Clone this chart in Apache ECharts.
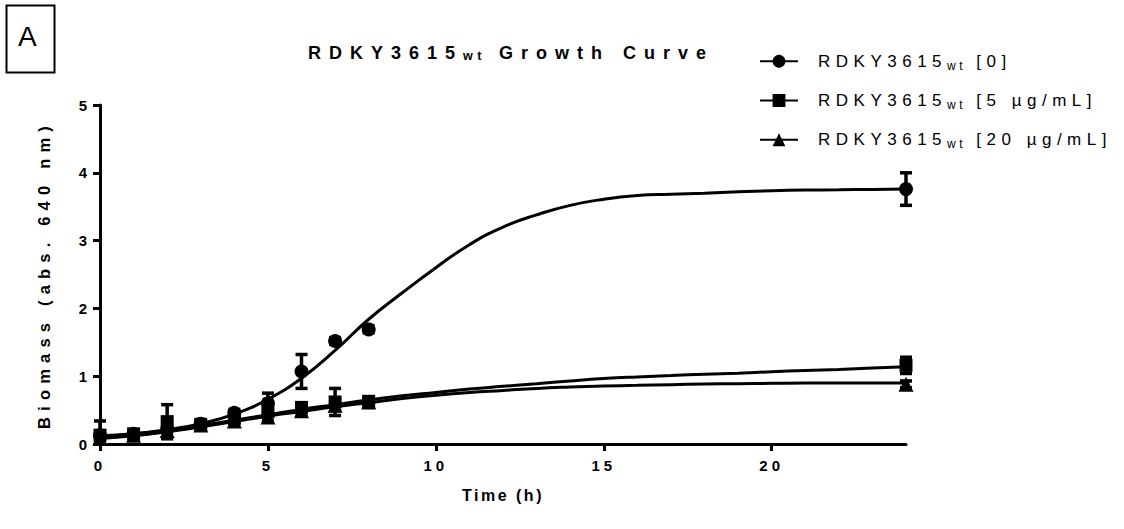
<!DOCTYPE html>
<html>
<head>
<meta charset="utf-8">
<script src="https://cdn.jsdelivr.net/npm/echarts@6/dist/echarts.min.js"></script>
<style>
  html, body { margin: 0; padding: 0; background: #fff; }
  #chart { width: 1124px; height: 529px; }
  #chart svg text[style*="font-size: 18px"]   { letter-spacing: 8px; }
  #chart svg text[style*="font-size: 12.5px"] { letter-spacing: 4.5px; }
  #chart svg text[style*="font-size: 17px"]   { letter-spacing: 5.5px; }
  #chart svg text[style*="font-size: 12px"]   { letter-spacing: 3.5px; }
  #chart svg text[style*="font-size: 15px"]   { letter-spacing: 4px; }
  #chart svg text[style*="font-size: 16px"]   { letter-spacing: 2.5px; }
  #chart svg text[style*="font-size: 16.5px"] { letter-spacing: 6.2px; }
</style>
</head>
<body>
<div id="chart"></div>
<script>
// ---------- data ----------
const timePoints = [0, 1, 2, 3, 4, 5, 6, 7, 8, 24];
const mean0  = [0.13, 0.15, 0.22, 0.30, 0.46, 0.60, 1.07, 1.52, 1.69, 3.76];
const sd0    = [0.21, 0.03, 0.05, 0.04, 0.05, 0.15, 0.25, 0.05, 0.05, 0.24];
const mean5  = [0.13, 0.15, 0.33, 0.29, 0.38, 0.47, 0.54, 0.62, 0.63, 1.16];
const sd5    = [0.05, 0.03, 0.25, 0.04, 0.05, 0.05, 0.05, 0.20, 0.05, 0.12];
const mean20 = [0.09, 0.13, 0.20, 0.28, 0.34, 0.40, 0.49, 0.57, 0.62, 0.88];
const sd20   = [0.05, 0.03, 0.12, 0.03, 0.04, 0.06, 0.06, 0.08, 0.04, 0.05];

// fitted curves (hourly)
const fitTime = [0, 1, 2, 3, 4, 5, 6, 7, 8, 9, 10, 11, 12, 13, 14, 15, 16, 17, 18, 19, 20, 21, 22, 23, 24];
const fit0  = [0.12, 0.15, 0.21, 0.30, 0.44, 0.66, 0.97, 1.38, 1.84, 2.23, 2.60, 2.94, 3.20, 3.38, 3.52, 3.61, 3.665, 3.685, 3.70, 3.72, 3.735, 3.745, 3.75, 3.755, 3.76];
const fit5  = [0.10, 0.15, 0.20, 0.27, 0.35, 0.43, 0.51, 0.58, 0.65, 0.71, 0.76, 0.81, 0.85, 0.89, 0.93, 0.965, 0.99, 1.01, 1.03, 1.045, 1.065, 1.085, 1.10, 1.12, 1.14];
const fit20 = [0.08, 0.12, 0.18, 0.25, 0.33, 0.41, 0.48, 0.55, 0.61, 0.67, 0.72, 0.76, 0.79, 0.82, 0.84, 0.855, 0.865, 0.875, 0.885, 0.89, 0.895, 0.90, 0.90, 0.90, 0.90];

const strain = 'RDKY3615';
const strainSub = 'wt';
const doses = ['[0]', '[5 µg/mL]', '[20 µg/mL]'];
const symbols = ['circle', 'rect', 'triangle'];
const symbolSizes = [14, 13, 15];
const xTicks = [0, 5, 10, 15, 20];
const yTicks = [0, 1, 2, 3, 4, 5];
const titleText = 'Growth Curve';
const xName = 'Time (h)';
const yName = 'Biomass (abs. 640 nm)';
const panelLabel = 'A';

// ---------- letter spacing per font size (must match the CSS above) ----------
const SPACING = { '18': 8, '12.5': 4.5, '17': 5.5, '12': 3.5, '15': 4, '16': 2.5, '16.5': 6.2 };
function spacingFor(sizeStr) {
  const v = SPACING[String(parseFloat(sizeStr))];
  return v === undefined ? 0 : v;
}
const mCtx = document.createElement('canvas').getContext('2d');
echarts.setPlatformAPI({
  measureText: function (text, font) {
    mCtx.font = font;
    const m = /([\d.]+)px/.exec(font);
    mCtx.letterSpacing = (m ? spacingFor(m[1]) : 0) + 'px';
    return mCtx.measureText(text);
  }
});

const FONT = "'Liberation Sans', Arial, sans-serif";
const chart = echarts.init(document.getElementById('chart'), null, { renderer: 'svg' });

const means = [mean0, mean5, mean20];
const sds = [sd0, sd5, sd20];
const fits = [fit0, fit5, fit20];
const names = doses.map(d => strain + strainSub + ' ' + d);

const series = [];
names.forEach((nm, k) => {
  series.push({
    name: nm, type: 'line', smooth: 0.5, showSymbol: false,
    symbol: symbols[k], symbolSize: symbolSizes[k],
    data: fitTime.map((t, i) => [t, fits[k][i]]),
    lineStyle: { color: '#000', width: 3 }, itemStyle: { color: '#000', opacity: 1 },
    z: 2, silent: true
  });
});
names.forEach((nm, k) => {
  series.push({
    name: nm, type: 'custom',
    data: timePoints.map((t, i) => [t, means[k][i] - sds[k][i], means[k][i] + sds[k][i]]),
    renderItem: function (params, api) {
      const lo = api.coord([api.value(0), api.value(1)]);
      const hi = api.coord([api.value(0), api.value(2)]);
      const y0 = api.coord([api.value(0), 0])[1];
      const clipped = lo[1] > y0;
      const ly = clipped ? y0 : lo[1];
      const w = 6;
      const st = { stroke: '#000', lineWidth: 3.5 };
      const ch = [
        { type: 'line', shape: { x1: lo[0], y1: ly, x2: hi[0], y2: hi[1] }, style: st },
        { type: 'line', shape: { x1: hi[0] - w, y1: hi[1], x2: hi[0] + w, y2: hi[1] }, style: st }
      ];
      if (!clipped) ch.push({ type: 'line', shape: { x1: lo[0] - w, y1: ly, x2: lo[0] + w, y2: ly }, style: st });
      return { type: 'group', children: ch };
    },
    z: 3, silent: true
  });
  series.push({
    name: nm, type: 'scatter', symbol: symbols[k], symbolSize: symbolSizes[k],
    data: timePoints.map((t, i) => [t, means[k][i]]),
    itemStyle: { color: '#000', opacity: 1 }, z: 4, silent: true
  });
});

chart.setOption({
  animation: false,
  backgroundColor: '#fff',
  textStyle: { fontFamily: FONT, color: '#000' },
  title: {
    text: '{a|' + strain + '}{s|' + strainSub + '}{a| ' + titleText + '}',
    left: 506, top: 36, textAlign: 'center',
    textStyle: {
      rich: {
        a: { fontFamily: FONT, fontSize: 18, fontWeight: 'bold', color: '#000', lineHeight: 24 },
        s: { fontFamily: FONT, fontSize: 12.5, fontWeight: 'bold', color: '#000', lineHeight: 13, verticalAlign: 'bottom' }
      }
    }
  },
  legend: {
    data: names, orient: 'vertical', left: 759, top: 50, padding: 0,
    itemWidth: 38, itemHeight: 16, itemGap: 16,
    formatter: function (n) {
      const d = n.slice((strain + strainSub + ' ').length);
      return '{a|' + strain + '}{s|' + strainSub + '}{a| ' + d + '}';
    },
    textStyle: {
      padding: [0, 0, 0, 15],
      rich: {
        a: { fontFamily: FONT, fontSize: 17, color: '#000', lineHeight: 24 },
        s: { fontFamily: FONT, fontSize: 12, color: '#000', lineHeight: 12, verticalAlign: 'bottom' }
      }
    },
    selectedMode: false
  },
  grid: { left: 100, right: 218, top: 105, bottom: 85, containLabel: false },
  xAxis: {
    type: 'value', min: 0, max: 24, interval: 5,
    name: xName, nameLocation: 'middle', nameGap: 42,
    nameTextStyle: { fontFamily: FONT, fontSize: 16, fontWeight: 'bold', color: '#000' },
    axisLine: { lineStyle: { color: '#000', width: 3 } },
    axisTick: { length: 7, lineStyle: { color: '#000', width: 3 }, customValues: xTicks },
    axisLabel: { fontFamily: FONT, fontSize: 15, fontWeight: 'bold', color: '#000', margin: 12, customValues: xTicks },
    splitLine: { show: false }
  },
  yAxis: {
    type: 'value', min: 0, max: 5, interval: 1,
    name: yName, nameLocation: 'middle', nameGap: 44, nameRotate: 90,
    nameTextStyle: { fontFamily: FONT, fontSize: 16.5, fontWeight: 'bold', color: '#000' },
    axisLine: { show: true, lineStyle: { color: '#000', width: 3 } },
    axisTick: { show: true, length: 7, lineStyle: { color: '#000', width: 3 }, customValues: yTicks },
    axisLabel: { fontFamily: FONT, fontSize: 15, fontWeight: 'bold', color: '#000', margin: 9, customValues: yTicks },
    splitLine: { show: false }
  },
  graphic: [
    { type: 'rect', left: 4, top: 3, shape: { width: 48, height: 67 },
      style: { fill: 'none', stroke: '#000', lineWidth: 2 } },
    { type: 'text', left: 18, top: 22,
      style: { text: panelLabel, fontFamily: FONT, fontSize: 28, fill: '#000' } }
  ],
  series: series
});
</script>
</body>
</html>
